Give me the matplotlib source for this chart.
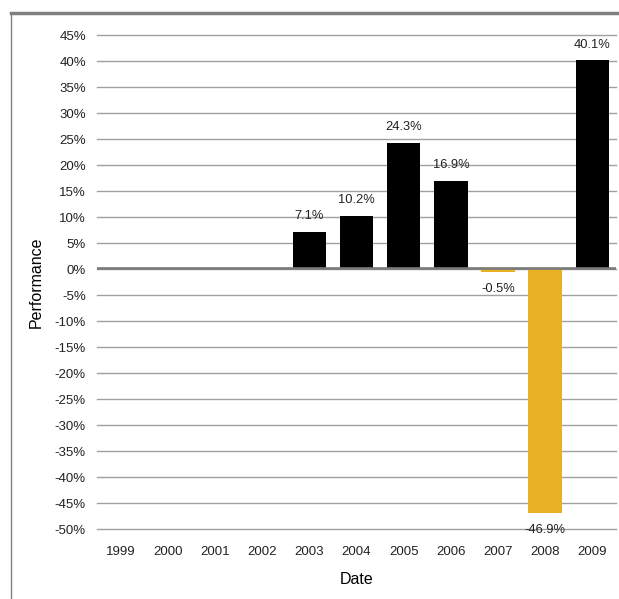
import numpy as np
import matplotlib.pyplot as plt
from matplotlib.lines import Line2D

plt.rcParams['font.family'] = ['Liberation Sans', 'DejaVu Sans']

years = ['1999', '2000', '2001', '2002', '2003', '2004', '2005', '2006', '2007', '2008', '2009']
perf = [np.nan, np.nan, np.nan, np.nan, 7.1, 10.2, 24.3, 16.9, -0.5, -46.9, 40.1]
yticks = list(range(-50, 50, 5))

fig = plt.figure(figsize=(6.19, 5.99), dpi=100)
ax = fig.add_axes([97 / 619, 70 / 599, 519 / 619, 494 / 599])

x = np.arange(len(years))
vals = np.array(perf)
colors = ['#e8b023' if v < 0 else '#000000' for v in np.nan_to_num(vals)]
ax.bar(x, np.nan_to_num(vals), width=0.71, color=colors, zorder=3)

for xi, v in zip(x, vals):
    if np.isnan(v):
        continue
    if v >= 0:
        ax.annotate('{:.1f}%'.format(v), (xi, v), xytext=(0, 7), textcoords='offset points',
                    ha='center', va='bottom', fontsize=9.3, color='#222222', zorder=5)
    else:
        ax.annotate('{:.1f}%'.format(v), (xi, v), xytext=(0, -8), textcoords='offset points',
                    ha='center', va='top', fontsize=9.3, color='#222222', zorder=5)

ax.set_xlim(-0.5, len(years) - 0.5)
ax.set_ylim(-50, 45)
ax.set_yticks(yticks)
ax.set_yticklabels(['{}%'.format(t) for t in yticks], fontsize=9.5, color='#222222')
ax.set_xticks(x)
ax.set_xticklabels(years, fontsize=9.5, color='#222222')
ax.tick_params(length=0, pad=8)
ax.tick_params(axis='x', pad=12)
for s in ax.spines.values():
    s.set_visible(False)
ax.grid(axis='y', color='#a0a0a0', linewidth=1, zorder=0)
for gl in ax.get_ygridlines():
    gl.set_clip_on(False)
ax.axhline(0.15, color='#7a7a7a', linewidth=1.9, zorder=4)

ax.set_xlabel('Date', fontsize=11.5, labelpad=10)
ax.set_ylabel('Performance', fontsize=11.5, labelpad=8)

# outer frame (top and left)
fig.add_artist(Line2D([11 / 619, 1], [586 / 599, 586 / 599], color='#808080', linewidth=2.5))
fig.add_artist(Line2D([11 / 619, 11 / 619], [0, 586 / 599], color='#808080', linewidth=1))

fig.savefig('out.png', dpi=100)
